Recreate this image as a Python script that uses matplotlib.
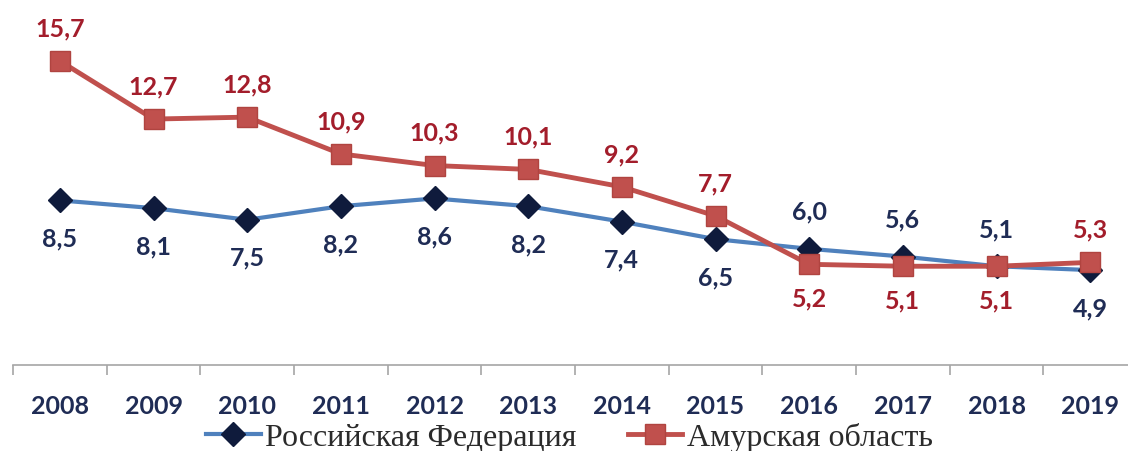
import matplotlib.pyplot as plt

years = ["2008", "2009", "2010", "2011", "2012", "2013",
         "2014", "2015", "2016", "2017", "2018", "2019"]
rf = [8.5, 8.1, 7.5, 8.2, 8.6, 8.2, 7.4, 6.5, 6.0, 5.6, 5.1, 4.9]
amur = [15.7, 12.7, 12.8, 10.9, 10.3, 10.1, 9.2, 7.7, 5.2, 5.1, 5.1, 5.3]
# where each value label goes: +1 above the point, -1 below
rf_side = [-1, -1, -1, -1, -1, -1, -1, -1, 1, 1, 1, -1]
amur_side = [1, 1, 1, 1, 1, 1, 1, 1, -1, -1, -1, 1]

blue_line = "#4F81BD"
blue_mark = "#0F1B3C"
blue_text = "#1F2C55"
red_line = "#C0504D"
red_text = "#A31D2B"

fig = plt.figure(figsize=(11.28, 4.52), dpi=100)
ax = fig.add_axes([13 / 1128, 86 / 452, 1124 / 1128, 366 / 452])

x = list(range(len(years)))
ax.plot(x, rf, color=blue_line, lw=3, marker="D", ms=12,
        mfc=blue_mark, mec=blue_mark, label="Российская Федерация", zorder=3)
ax.plot(x, amur, color=red_line, lw=3.5, marker="s", ms=14,
        mfc=red_line, mec="#B04440", label="Амурская область", zorder=4)

lab_font = dict(family=["Lato", "DejaVu Sans"], fontsize=18, fontweight="bold")
for i in x:
    ax.annotate(f"{rf[i]:.1f}".replace(".", ","), (i, rf[i]),
                xytext=(0, 27 * rf_side[i]), textcoords="offset points",
                ha="center", va="center", color=blue_text, **lab_font)
    ax.annotate(f"{amur[i]:.1f}".replace(".", ","), (i, amur[i]),
                xytext=(0, 24 * amur_side[i]), textcoords="offset points",
                ha="center", va="center", color=red_text, **lab_font)

ax.set_xlim(-0.5, 11.5)
ax.set_ylim(0, 18.9)
ax.set_yticks([])
for s in ["top", "right", "left"]:
    ax.spines[s].set_visible(False)
ax.spines["bottom"].set_color("#A6A6A6")
ax.spines["bottom"].set_linewidth(1.2)

ax.set_xticks(x)
ax.set_xticklabels(years, color=blue_text, **lab_font)
ax.tick_params(axis="x", which="major", length=0, pad=21)
ax.set_xticks([i + 0.5 for i in range(-1, 12)], minor=True)
ax.tick_params(axis="x", which="minor", length=7, color="#A6A6A6", width=1.2)

fig.legend(*ax.get_legend_handles_labels(), loc="center",
           bbox_to_anchor=(0.505, 0.03), ncol=2, frameon=False,
           prop=dict(family="Liberation Serif", size=23),
           handlelength=1.7, handletextpad=0.15, columnspacing=1.6,
           labelcolor="#2B2B2B", borderpad=0)

fig.savefig("out.png", dpi=100)
